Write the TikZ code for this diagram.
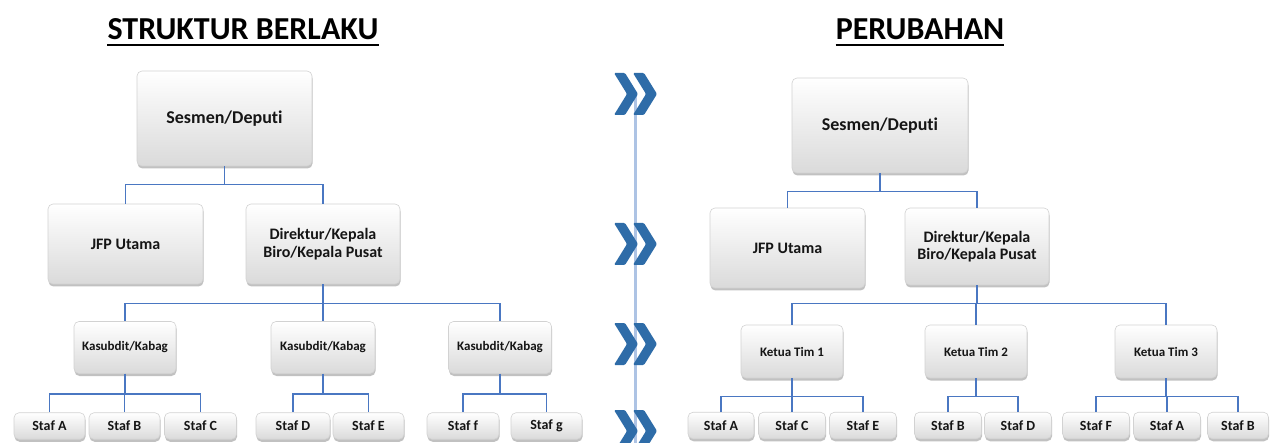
\documentclass[tikz,border=0pt]{standalone}
\usepackage{fontspec}
\setmainfont{Carlito}[Ligatures=NoCommon]
\usetikzlibrary{shadows}
\definecolor{linkblue}{HTML}{4A77C2}
\definecolor{chevblue}{HTML}{2E6CA8}
\definecolor{railblue}{HTML}{ADC3E4}
\definecolor{boxline}{HTML}{D2D2D2}
\definecolor{boxbottom}{HTML}{DADADA}
\definecolor{txt}{HTML}{151515}
\tikzset{
 orgbox/.style={rectangle, rounded corners=5pt, draw=boxline, line width=0.6pt,
   top color=white, middle color=white, bottom color=boxbottom,
   drop shadow={shadow xshift=0.5pt, shadow yshift=-2.5pt, opacity=0.4, fill=black!60},
   inner sep=0pt, align=center, text=txt},
 bigbox/.style={orgbox, font=\bfseries\fontsize{18}{20}\selectfont},
 midbox/.style={orgbox, font=\bfseries\fontsize{16}{17.5}\selectfont},
 unitbox/.style={orgbox, font=\bfseries\fontsize{13}{15}\selectfont, minimum height=52pt},
 stafbox/.style={orgbox, font=\bfseries\fontsize{14}{15}\selectfont, minimum height=26.5pt},
 conn/.style={draw=linkblue, line width=1.5pt},
 titletext/.style={font=\bfseries\fontsize{32}{36}\selectfont, inner sep=0pt, anchor=base, text=black},
 chevron/.pic={\fill[chevblue, rounded corners=1.2pt] (0,-21) -- (11,-21) -- (24,0) -- (11,21) -- (0,21) -- (13,0) -- cycle;}
}
\begin{document}
\begin{tikzpicture}[x=1pt,y=-1pt]
\useasboundingbox (0,0) rectangle (1281,443);
\clip (0,0) rectangle (1281,443);
\fill[white] (0,0) rectangle (1281,443);

% titles
\node[titletext] (t1) at (243,40) {STRUKTUR BERLAKU};
\node[titletext] (t2) at (920,40) {PERUBAHAN};
\draw[line width=2pt] ([yshift=-5pt]t1.base west) -- ([yshift=-5pt]t1.base east);
\draw[line width=2pt] ([yshift=-5pt]t2.base west) -- ([yshift=-5pt]t2.base east);

% middle rail with chevrons
\coordinate (railtop) at (635,94);
\coordinate (railbot) at (635,450);
\draw[railblue, line width=3pt] (railtop) -- (railbot);
\foreach \yy in {94,244,344,431}{
  \pic at (614,\yy) {chevron};
  \pic at (633,\yy) {chevron};
}

% ---------- left: STRUKTUR BERLAKU ----------
\node[bigbox, minimum width=175pt, minimum height=95pt] (s1) at (224.5,118.5) {Sesmen/Deputi};
\node[midbox, minimum width=155pt, minimum height=80pt] (j1) at (125.5,244) {JFP Utama};
\node[midbox, minimum width=154pt, minimum height=80pt] (d1) at (323,244) {Direktur/Kepala\\Biro/Kepala Pusat};
\node[unitbox, minimum width=102pt] (k1a) at (125,347.5) {Kasubdit/Kabag};
\node[unitbox, minimum width=104pt] (k1b) at (323,347.5) {Kasubdit/Kabag};
\node[unitbox, minimum width=103pt] (k1c) at (500,347.5) {Kasubdit/Kabag};
\node[stafbox, minimum width=71pt] (la) at (49.5,426) {Staf A};
\node[stafbox, minimum width=71pt] (lb) at (124.5,426) {Staf B};
\node[stafbox, minimum width=72pt] (lc) at (200.5,426) {Staf C};
\node[stafbox, minimum width=74pt] (ld) at (293,426) {Staf D};
\node[stafbox, minimum width=71pt] (le) at (368.5,426) {Staf E};
\node[stafbox, minimum width=72pt] (lf) at (463,426) {Staf f};
\node[stafbox, minimum width=71pt] (lg) at (546.5,426) {Staf g};

\draw[conn] (s1.south) -- ++(0,18) -| (j1.north);
\draw[conn] (s1.south) -- ++(0,18) -| (d1.north);
\draw[conn] (d1.south) -- ++(0,19) -| (k1a.north);
\draw[conn] (d1.south) -- ++(0,19) -| (k1b.north);
\draw[conn] (d1.south) -- ++(0,19) -| (k1c.north);
\draw[conn] (k1a.south) -- ++(0,20) -| (la.north);
\draw[conn] (k1a.south) -- ++(0,20) -| (lb.north);
\draw[conn] (k1a.south) -- ++(0,20) -| (lc.north);
\draw[conn] (k1b.south) -- ++(0,20) -| (ld.north);
\draw[conn] (k1b.south) -- ++(0,20) -| (le.north);
\draw[conn] (k1c.south) -- ++(0,20) -| (lf.north);
\draw[conn] (k1c.south) -- ++(0,20) -| (lg.north);

% ---------- right: PERUBAHAN ----------
\node[bigbox, minimum width=176pt, minimum height=95pt] (s2) at (880,125.5) {Sesmen/Deputi};
\node[midbox, minimum width=155pt, minimum height=80pt] (j2) at (787.5,248) {JFP Utama};
\node[midbox, minimum width=144pt, minimum height=77pt] (d2) at (977,246.5) {Direktur/Kepala\\Biro/Kepala Pusat};
\node[unitbox, minimum width=102pt, minimum height=53pt] (k2a) at (792,351.5) {Ketua Tim 1};
\node[unitbox, minimum width=102pt, minimum height=53pt] (k2b) at (976,351.5) {Ketua Tim 2};
\node[unitbox, minimum width=102pt, minimum height=53pt] (k2c) at (1166,351.5) {Ketua Tim 3};
\node[stafbox, minimum width=66pt] (ra) at (721,425.5) {Staf A};
\node[stafbox, minimum width=67pt] (rc) at (792,425.5) {Staf C};
\node[stafbox, minimum width=67pt] (re) at (863,425.5) {Staf E};
\node[stafbox, minimum width=67pt] (rb) at (948,425.5) {Staf B};
\node[stafbox, minimum width=67pt] (rd) at (1018,425.5) {Staf D};
\node[stafbox, minimum width=67pt] (rf) at (1096,425.5) {Staf F};
\node[stafbox, minimum width=67pt] (ra2) at (1167,425.5) {Staf A};
\node[stafbox, minimum width=61pt] (rb2) at (1238,425.5) {Staf B};

\draw[conn] (s2.south) -- ++(0,18) -| (j2.north);
\draw[conn] (s2.south) -- ++(0,18) -| (d2.north);
\draw[conn] (d2.south) -- ++(0,18) -| (k2a.north);
\draw[conn] (d2.south) -- ++(0,18) -| (k2b.north);
\draw[conn] (d2.south) -- ++(0,18) -| (k2c.north);
\draw[conn] (k2a.south) -- ++(0,18) -| (ra.north);
\draw[conn] (k2a.south) -- ++(0,18) -| (rc.north);
\draw[conn] (k2a.south) -- ++(0,18) -| (re.north);
\draw[conn] (k2b.south) -- ++(0,18) -| (rb.north);
\draw[conn] (k2b.south) -- ++(0,18) -| (rd.north);
\draw[conn] (k2c.south) -- ++(0,18) -| (rf.north);
\draw[conn] (k2c.south) -- ++(0,18) -| (ra2.north);
\draw[conn] (k2c.south) -- ++(0,18) -| (rb2.north);
\end{tikzpicture}
\end{document}
